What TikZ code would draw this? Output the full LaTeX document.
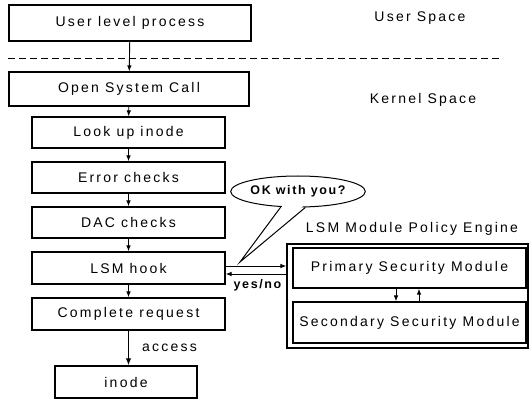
\documentclass[tikz,border=0pt]{standalone}
\usepackage{fontspec}
\setmainfont{Liberation Sans}
\newfontfamily\boxfont{Liberation Sans}[LetterSpace=16]
\newfontfamily\boldfont{Liberation Sans}[LetterSpace=13]
\usetikzlibrary{arrows.meta,shapes.geometric,calc}
\begin{document}
\begin{tikzpicture}[x=1pt,y=-1pt,
  box/.style={draw,line width=1.2pt,inner sep=0pt,font=\boxfont\fontsize{14}{16}\selectfont},
  arr/.style={-{Latex[length=6pt,width=4.5pt]},line width=0.9pt},
  lbl/.style={inner sep=0pt,font=\boxfont\fontsize{14}{16}\selectfont},
  blbl/.style={inner sep=0pt,font=\boldfont\bfseries\fontsize{12.5}{14}\selectfont}]
\useasboundingbox (0,0) rectangle (529,403);
% left column
\node[box,minimum width=242pt,minimum height=36pt] (user) at (130,23) {User level process};
\node[box,minimum width=240pt,minimum height=34pt] (open) at (129,89) {Open System Call};
\node[box,minimum width=193pt,minimum height=31pt] (lookup) at (128.5,132.5) {Look up inode};
\node[box,minimum width=193pt,minimum height=31pt] (error) at (128.5,177.5) {Error checks};
\node[box,minimum width=193pt,minimum height=31pt] (dac) at (128.5,222.5) {DAC checks};
\node[box,minimum width=193pt,minimum height=32pt] (lsm) at (128.5,268) {LSM hook};
\node[box,minimum width=193pt,minimum height=32pt] (complete) at (128.5,314) {Complete request};
\node[box,minimum width=142pt,minimum height=32pt] (inode) at (126,382) {inode};
% space labels and divider
\node[lbl] (us) at (420,18) {User Space};
\node[lbl] (ks) at (423,100) {Kernel Space};
\coordinate (dl) at (8,59);
\coordinate (dr) at (500,59);
\draw[line width=1pt,dash pattern=on 7pt off 4pt] (dl) -- (dr);
% arrows down the column
\draw[arr] (user) -- (open);
\draw[arr] (open) -- (lookup);
\draw[arr] (lookup) -- (error);
\draw[arr] (error) -- (dac);
\draw[arr] (dac) -- (lsm);
\draw[arr] (lsm) -- (complete);
\draw[-{Latex[length=7pt,width=5.5pt]},line width=1.6pt] (complete.south) -- (complete.south |- inode.north);
\node[lbl] (access) at (169.5,348) {access};
% policy engine
\node[lbl] (pe) at (412,229) {LSM Module Policy Engine};
\node[box,minimum width=241pt,minimum height=104pt] (outer) at (407.5,296) {};
\node[box,minimum width=233pt,minimum height=40pt] (primary) at (409.5,268) {Primary Security Module};
\node[box,minimum width=233pt,minimum height=41pt] (secondary) at (409.5,322.5) {Secondary Security Module};
\draw[arr] (primary.south -| 396,0) -- (secondary.north -| 396,0);
\draw[arr] (secondary.north -| 419,0) -- (primary.south -| 419,0);
% hook <-> engine
\draw[arr] ([yshift=2pt]lsm.east) -- ([yshift=2pt]lsm.east -| outer.west);
\draw[arr] ([yshift=-6pt]lsm.east -| outer.west) -- ([yshift=-6pt]lsm.east);
\node[blbl] (yn) at (257.5,285) {yes/no};
% speech bubble
\node[ellipse,draw,line width=1pt,inner sep=0pt,minimum width=104pt,minimum height=31pt,font=\boldfont\bfseries\fontsize{12.5}{14}\selectfont] (bubble) at (298,191.5) {OK with you?};
\coordinate (tip) at (240,262);
\fill[white] ($(bubble.222)!0.15!(bubble.center)$) -- (tip) -- ($(bubble.295)!0.15!(bubble.center)$) -- cycle;
\draw[line width=1pt,line join=miter] (bubble.222) -- (tip) -- (bubble.295);
\end{tikzpicture}
\end{document}
